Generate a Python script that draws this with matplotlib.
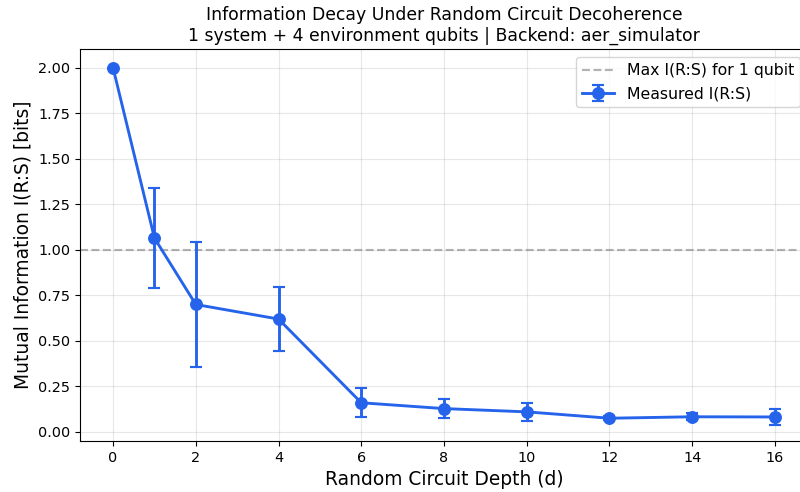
import matplotlib.pyplot as plt

# data
depths = [0, 1, 2, 4, 6, 8, 10, 12, 14, 16]
mutual_info = [2.00, 1.065, 0.70, 0.62, 0.16, 0.128, 0.11, 0.075, 0.083, 0.082]
mi_err = [0.0, 0.275, 0.345, 0.175, 0.08, 0.05, 0.048, 0.01, 0.02, 0.046]
max_mi = 1.0

s = 1.035  # reference was rendered slightly larger

fig = plt.figure(figsize=(8, 4.92), dpi=100)
# the reference is cropped on the right, so the axes run past the figure edge
ax = fig.add_axes([0.1, 0.1037, 0.91, 0.7967])

ax.axhline(max_mi, color='gray', linestyle='--', alpha=0.6, linewidth=1.5 * s,
           label='Max I(R:S) for 1 qubit')
ax.errorbar(depths, mutual_info, yerr=mi_err, fmt='o-', color='#2563eb',
            linewidth=2 * s, markersize=8 * s, capsize=4 * s, capthick=1.5 * s,
            elinewidth=2 * s, label='Measured I(R:S)')

ax.set_xlim(-0.8, 16.8)
ax.set_ylim(-0.05, 2.104)
ax.set_xticks(range(0, 17, 2))
ax.tick_params(labelsize=10 * s)
ax.set_xlabel('Random Circuit Depth (d)', fontsize=13 * s)
ax.set_ylabel('Mutual Information I(R:S) [bits]', fontsize=13 * s)
ax.set_title('Information Decay Under Random Circuit Decoherence\n'
             '1 system + 4 environment qubits | Backend: aer_simulator',
             fontsize=12 * s)
ax.grid(True, alpha=0.3)
ax.legend(loc='upper right', fontsize=11 * s)

fig.savefig('out.png', dpi=100)
